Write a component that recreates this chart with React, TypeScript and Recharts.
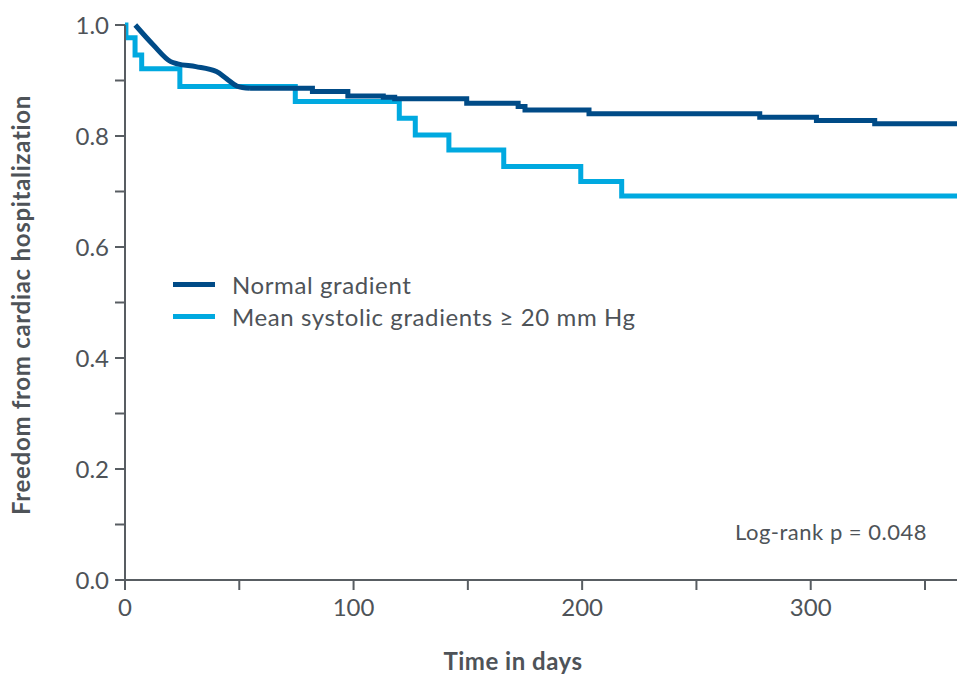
import React from 'react';
import { LineChart, Line, XAxis, YAxis, Label } from 'recharts';

// Mean systolic gradients >= 20 mm Hg (Kaplan-Meier steps)
const lightDays = [0, 0.4, 4.4, 7.3, 24, 74.5, 120, 127, 141.7, 165.7, 199.4, 217.3, 364];
const lightSurv = [1.0, 0.977, 0.946, 0.921, 0.889, 0.862, 0.832, 0.802, 0.775, 0.745, 0.718, 0.692, 0.692];

// Normal gradient: early dense part (smooth)
const darkEarlyDays = [4.5, 12.4, 20, 23, 31, 40, 44.5, 49, 54.7];
const darkEarlySurv = [1.0, 0.964, 0.934, 0.93, 0.925, 0.916, 0.903, 0.89, 0.886];

// Normal gradient: later steps
const darkDays = [54.7, 82, 97.5, 113, 118, 149.5, 172, 175, 203, 277.7, 302.5, 328, 364];
const darkSurv = [0.886, 0.88, 0.872, 0.87, 0.867, 0.859, 0.853, 0.847, 0.84, 0.834, 0.828, 0.822, 0.822];

const xTicks = [0, 50, 100, 150, 200, 250, 300, 350];
const xLabeled = [0, 100, 200, 300];
const yTicks = [0, 0.1, 0.2, 0.3, 0.4, 0.5, 0.6, 0.7, 0.8, 0.9, 1.0];
const yLabeled = ['0.0', '0.2', '0.4', '0.6', '0.8', '1.0'];

const seriesNames = ['Normal gradient', 'Mean systolic gradients \u2265 20 mm Hg'];
const DARK = '#004b87';
const LIGHT = '#00a9e0';
const AXIS = '#585d62';
const TEXT = '#4e5358';
const FONT = 'Lato, "Noto Sans", sans-serif';

const lightData = lightDays.map((t, i) => ({ t, s: lightSurv[i] }));
const darkEarlyData = darkEarlyDays.map((t, i) => ({ t, s: darkEarlySurv[i] }));
const darkData = darkDays.map((t, i) => ({ t, s: darkSurv[i] }));

const legendItems = [
  { label: seriesNames[0], color: DARK },
  { label: seriesNames[1], color: LIGHT },
];

export default function App() {
  return (
    <div style={{ position: 'absolute', left: 0, top: 0, width: 957, height: 677, background: '#fff' }}>
      <LineChart
        width={957}
        height={677}
        margin={{ top: 25, right: 0, bottom: 0, left: 0 }}
        style={{ fontFamily: FONT }}
      >
        <XAxis
          type="number"
          dataKey="t"
          domain={[0, 364]}
          ticks={xTicks}
          allowDataOverflow
          height={97}
          tickSize={10}
          tickMargin={9}
          interval={0}
          tickFormatter={(v: number) => (xLabeled.includes(v) ? String(v) : '')}
          tick={{ fill: TEXT, fontSize: 24, fontFamily: FONT }}
          axisLine={{ stroke: AXIS, strokeWidth: 2 }}
          tickLine={{ stroke: AXIS, strokeWidth: 2 }}
        >
          <Label
            content={() => (
              <text x={513} y={670} textAnchor="middle" fill={TEXT} fontSize={24} fontWeight={700} fontFamily={FONT} letterSpacing={0.5}>
                Time in days
              </text>
            )}
          />
        </XAxis>
        <YAxis
          type="number"
          domain={[0, 1]}
          ticks={yTicks}
          width={125}
          tickSize={10}
          tickMargin={6}
          interval={0}
          tickFormatter={(v: number) => (yLabeled.includes(v.toFixed(1)) && Math.round(v * 10) % 2 === 0 ? v.toFixed(1) : '')}
          tick={{ fill: TEXT, fontSize: 24, fontFamily: FONT }}
          axisLine={{ stroke: AXIS, strokeWidth: 2 }}
          tickLine={{ stroke: AXIS, strokeWidth: 2 }}
        >
          <Label
            content={() => (
              <text
                x={30}
                y={305}
                textAnchor="middle"
                transform="rotate(-90 30 305)"
                fill={TEXT}
                fontSize={24}
                fontWeight={700}
                fontFamily={FONT}
                letterSpacing={0.7}
              >
                Freedom from cardiac hospitalization
              </text>
            )}
          />
        </YAxis>
        <Line
          data={lightData}
          dataKey="s"
          type="stepAfter"
          stroke={LIGHT}
          strokeWidth={5}
          dot={false}
          isAnimationActive={false}
          name={seriesNames[1]}
        />
        <Line
          data={darkEarlyData}
          dataKey="s"
          type="monotone"
          stroke={DARK}
          strokeWidth={5}
          dot={false}
          isAnimationActive={false}
          name={seriesNames[0]}
        />
        <Line
          data={darkData}
          dataKey="s"
          type="stepAfter"
          stroke={DARK}
          strokeWidth={5}
          dot={false}
          isAnimationActive={false}
          name={seriesNames[0] + ' '}
        />
      </LineChart>
      <div style={{ position: 'absolute', left: 173, top: 268, fontFamily: FONT, fontSize: 24, color: TEXT, letterSpacing: 0.6 }}>
        {legendItems.map((it) => (
          <div key={it.label} style={{ display: 'flex', alignItems: 'center', height: 32 }}>
            <div style={{ width: 42, height: 5, background: it.color, marginRight: 17 }} />
            <span style={{ whiteSpace: 'nowrap' }}>{it.label}</span>
          </div>
        ))}
      </div>
      <div
        style={{
          position: 'absolute',
          left: 735,
          top: 518,
          fontFamily: FONT,
          fontSize: 22,
          color: TEXT,
          letterSpacing: 0.5,
          whiteSpace: 'nowrap',
        }}
      >
        Log-rank p = 0.048
      </div>
    </div>
  );
}
